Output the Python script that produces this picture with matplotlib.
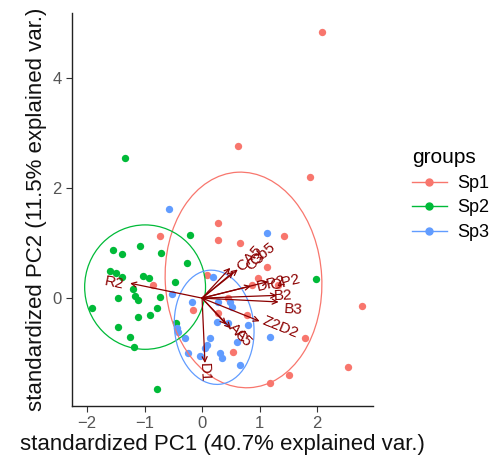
import numpy as np
import matplotlib
matplotlib.use("Agg")
import matplotlib.pyplot as plt
from matplotlib.patches import Ellipse

plt.rcParams['font.family'] = ['Liberation Sans', 'DejaVu Sans']

# scores
sp1_x = [2.09, 0.63, 1.88, 0.28, -0.73, 0.28, 0.66, 1.43, 1.13, 0.09, 0.97, 0.87,
         1.32, -0.85, 0.45, -0.16, 0.28, 0.78, 2.78, 1.79, 0.54, 2.54, 1.51, 1.18]
sp1_y = [4.84, 2.76, 2.20, 1.36, 1.13, 1.05, 1.00, 1.13, 0.56, 0.42, 0.36, 0.24,
         0.24, 0.24, 0.00, -0.22, -0.27, -0.31, -0.15, -0.73, -0.98, -1.25, -1.40, -1.55]
sp2_x = [-1.34, -0.21, -1.55, -1.39, -1.08, -0.71, -0.26, -1.60, -1.50, -1.39, -1.03, -0.92,
         -0.47, -1.20, -1.17, -1.11, -1.46, -0.73, -1.91, -0.78, -0.90, -1.11, -1.46, -1.25,
         -1.18, -0.78, 1.98, -0.45]
sp2_y = [2.55, 1.15, 0.87, 0.80, 0.95, 0.82, 0.64, 0.49, 0.45, 0.38, 0.40, 0.36,
         0.29, 0.16, 0.04, -0.04, 0.00, 0.02, -0.18, -0.18, -0.31, -0.35, -0.53, -0.71,
         -0.89, -1.65, 0.35, -0.45]
sp3_x = [-0.57, 1.13, 0.19, -0.52, -0.17, 0.49, 0.52, 0.26, 0.80, -0.43, -0.42, -0.30,
         0.14, 0.09, 0.05, 0.31, 0.35, -0.03, 0.66, 0.61, 1.18, -0.24, 0.45, 0.28]
sp3_y = [1.62, 1.18, 0.38, 0.07, -0.07, -0.07, -0.16, -0.44, -0.49, -0.55, -0.62, -0.73,
         -0.73, -0.85, -0.91, -1.00, -1.09, -1.05, -1.22, -0.80, -0.71, -1.00, -0.45, -0.07]

groups = ['Sp1', 'Sp2', 'Sp3']
colors = ['#F8766D', '#00BA38', '#619CFF']

ell_cx = [0.72, -0.99, 0.21]
ell_cy = [0.33, 0.20, -0.53]
ell_w = [2.72, 2.10, 1.38]
ell_h = [3.92, 2.26, 2.08]
ell_ang = [3, 0, 5]

# loadings
var_names = ['R2', 'CA5', 'C3', 'Cb5', 'DP2', 'OP2', 'B2', 'B3', 'Z2D2', 'AC', 'A5', 'D1']
var_x = [-1.25, 0.49, 0.55, 0.62, 0.85, 1.15, 1.30, 1.33, 1.00, 0.42, 0.50, 0.05]
var_y = [0.27, 0.55, 0.48, 0.52, 0.22, 0.30, 0.05, -0.07, -0.42, -0.48, -0.55, -1.18]
lab_x = [-1.53, 0.82, 0.92, 1.05, 1.20, 1.44, 1.41, 1.58, 1.36, 0.62, 0.72, 0.03]
lab_y = [0.27, 0.72, 0.66, 0.80, 0.26, 0.28, 0.04, -0.20, -0.53, -0.64, -0.72, -1.35]

W, H = 495, 468
fig = plt.figure(figsize=(W / 100, H / 100), dpi=100)
ax = fig.add_axes([72 / W, (H - 406) / H, (373 - 72) / W, (406 - 13) / H])

xs = [sp1_x, sp2_x, sp3_x]
ys = [sp1_y, sp2_y, sp3_y]
for i in range(3):
    ax.scatter(xs[i], ys[i], s=28, color=colors[i], zorder=2, linewidths=0)
    e = Ellipse((ell_cx[i], ell_cy[i]), ell_w[i], ell_h[i], angle=ell_ang[i],
                fill=False, edgecolor=colors[i], lw=0.9, zorder=3)
    ax.add_patch(e)
    ax.plot([], [], color=colors[i], marker='o', ms=5, lw=1, label=groups[i])

for i in range(len(var_names)):
    ax.annotate('', xy=(var_x[i], var_y[i]), xytext=(0, 0),
                arrowprops=dict(arrowstyle='->', color='#8B0000', lw=0.9,
                                shrinkA=0, shrinkB=0, mutation_scale=9), zorder=4)
    ang = np.degrees(np.arctan(var_y[i] * 55 / (var_x[i] * 57.5)))
    ax.text(lab_x[i], lab_y[i], var_names[i], color='#8B0000', fontsize=11,
            rotation=ang, ha='center', va='center', rotation_mode='anchor', zorder=5)

ax.set_xlim(-2.26, 2.97)
ax.set_ylim(-1.96, 5.18)
ax.set_xticks([-2, -1, 0, 1, 2])
ax.set_yticks([0, 2, 4])
ax.spines['top'].set_visible(False)
ax.spines['right'].set_visible(False)
for s in ['left', 'bottom']:
    ax.spines[s].set_color('#222222')
    ax.spines[s].set_linewidth(1.0)
ax.tick_params(colors='#333333', labelcolor='#555555', labelsize=12, length=4)
ax.set_xlabel('standardized PC1 (40.7% explained var.)', fontsize=16, color='#111111',
              labelpad=2)
ax.set_ylabel('standardized PC2 (11.5% explained var.)', fontsize=16, color='#111111',
              labelpad=4)

leg = fig.legend(loc='upper left', bbox_to_anchor=(396 / W, 1 - 132 / H), frameon=False,
                 title='groups', fontsize=13, title_fontsize=15, handlelength=1.9,
                 labelspacing=0.42, handletextpad=0.6)
leg._legend_box.align = 'left'

fig.savefig('out.png', dpi=100)
